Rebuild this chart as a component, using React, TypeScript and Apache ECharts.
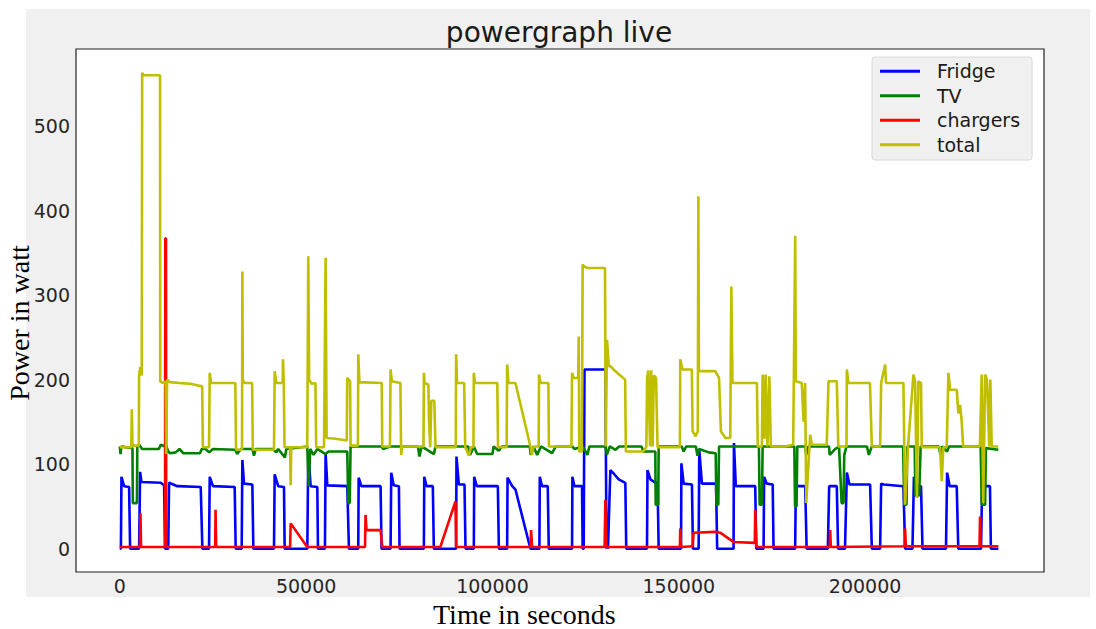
import React, { useEffect, useRef } from "react";
import * as echarts from "echarts";

const SERIES_NAMES = ["Fridge", "TV", "chargers", "total"];
const SERIES_COLORS = ["#0000ff", "#008000", "#ff0000", "#bfbf00"];
const X_TICKS = [0, 50000, 100000, 150000, 200000];
const Y_TICKS = [0, 100, 200, 300, 400, 500];

const FRIDGE: [number, number][] = [
  [0, 0], [300, 0], [450, 85], [1160, 74], [2500, 73], [2770, 0], [5180, 0], [5450, 91], [5810, 79], [10990, 78], [11890, 75], [12150, 0], [13000, 0], [13230, 78], [15460, 74], [21720, 73], [22160, 0], [23950, 0], [24130, 85], [25000, 74], [30830, 73], [31100, 0], [32710, 0], [32890, 105], [33330, 77], [35570, 76], [35840, 0], [41380, 0], [41560, 88], [42500, 74], [44060, 73], [44240, 0], [50320, 0], [50580, 115], [51210, 74], [53000, 73], [53180, 0], [55050, 0], [55230, 113], [55680, 75],
  [61040, 74], [61490, 0], [63990, 0], [64100, 84], [64800, 74], [69980, 74], [70240, 0], [72660, 0], [72840, 90], [73500, 75], [74900, 74], [75070, 0], [81590, 0], [81700, 85], [82300, 74], [84000, 74], [84270, 0], [90250, 0], [90350, 109], [90980, 76], [92500, 76], [92770, 0], [95000, 0], [95100, 85], [95800, 74], [101450, 74], [101720, 0], [103940, 0], [104050, 84], [105300, 74], [106170, 70], [110190, 0], [112600, 0], [112700, 85], [113300, 74], [114840, 74], [115110, 0],
  [121360, 0], [121450, 85], [122000, 74], [124040, 74], [124200, 0], [124490, 0], [124700, 212], [130300, 212], [130600, 0], [130744, 30], [131000, 0], [131638, 93], [132530, 89], [133870, 82], [135660, 78], [135900, 0], [141470, 0], [141600, 93], [142400, 82], [143700, 78], [144300, 78], [144600, 0], [150600, 0], [150700, 101], [151300, 77], [153530, 76], [153800, 0], [155320, 0], [155500, 117], [156200, 77], [160000, 77], [160300, 0], [164700, 0], [164800, 125], [165300, 74], [170510, 74], [170800, 0], [172750, 0], [172900, 85], [173600, 77], [175200, 76], [175430, 0],
  [181230, 0], [181400, 74], [183920, 74], [184300, 0], [190000, 0], [190350, 74], [192400, 74], [192750, 0], [194600, 0], [195100, 90], [195800, 76], [201340, 76], [201800, 0], [204026, 0], [204300, 77], [205000, 76], [210280, 74], [210730, 0], [212700, 0], [213100, 85], [213700, 74], [215000, 74], [215400, 0], [221700, 0], [222000, 90], [222700, 74], [224580, 74], [225000, 0], [231100, 0], [231400, 74], [233500, 74], [233750, 0], [235750, 0],
];

const TV: [number, number][] = [
  [0, 121], [200, 112], [400, 121], [3400, 119], [3500, 54], [4600, 54], [4700, 121], [5200, 123], [6000, 118], [10500, 118], [11000, 123], [12200, 121], [12300, 110], [12500, 121], [13000, 115], [13500, 113], [15000, 114], [16000, 118], [17000, 113], [21500, 113], [22000, 118], [23000, 118], [24000, 114], [25000, 118], [31000, 117], [31500, 112], [32500, 118], [35600, 118], [36000, 110], [36500, 118], [41000, 118], [42000, 114], [42500, 118], [44300, 108], [44700, 118], [50300, 121], [50700, 74], [51100, 118], [52000, 111], [53000, 118], [55200, 112], [56000, 115], [58000, 115], [61040, 115], [61300, 54], [61700, 54], [61930, 121], [70400, 121], [70600, 118], [72600, 121], [80000, 121], [80400, 109], [81000, 121], [84300, 112], [84700, 121], [93500, 121], [94000, 111], [95000, 121], [95900, 112], [100000, 112], [100300, 121], [101700, 116], [102500, 121], [110000, 121], [110300, 111], [111000, 121], [112000, 111], [113000, 121], [116000, 113], [117000, 121],
  [121400, 121], [122000, 118], [124200, 121], [125500, 111], [126000, 121], [130300, 121], [130700, 111], [131500, 121], [133000, 117], [134000, 121], [140000, 121], [140500, 115], [143700, 115], [143800, 52], [144500, 52], [144600, 121], [150800, 121], [151300, 115], [152000, 121], [154600, 121], [155000, 110], [155500, 118], [158000, 114], [159900, 113], [160100, 52], [160600, 52], [160800, 121], [171500, 121], [171700, 52], [172300, 52], [172500, 121], [178000, 121],
  [181000, 121], [181200, 50], [181600, 50], [181800, 121], [183900, 121], [184200, 111], [184800, 121], [190300, 121], [190500, 111], [192000, 118], [193000, 121], [193700, 54], [194200, 54], [194400, 111], [195000, 121], [200500, 121], [201000, 111], [201800, 121], [210200, 121], [210500, 52], [211100, 52], [211300, 121], [213300, 121], [213500, 63], [214500, 63], [214900, 121], [219800, 121], [220200, 111], [220600, 121], [222000, 115], [222500, 121], [231000, 121], [231300, 52], [232200, 52], [232400, 119], [235750, 117],
];

const CHARGERS: [number, number][] = [
  [0, 2], [5400, 2], [5550, 42], [5700, 2], [12150, 2], [12200, 367], [12400, 367], [12450, 2], [25600, 2], [25700, 46], [25850, 2], [45700, 2], [45850, 30], [50300, 2], [65800, 2], [65950, 40], [66200, 22], [69980, 22], [70420, 2], [86000, 2], [90080, 56], [90250, 2], [110190, 2], [110370, 22], [110640, 2], [130100, 2], [130300, 58], [130500, 2], [150300, 2], [150400, 24], [150600, 2], [153700, 3], [153980, 19], [159800, 20], [161100, 19], [163400, 12], [164700, 8], [170400, 7], [170514, 46], [170800, 2], [190500, 2], [190620, 22], [190800, 2], [210600, 3], [210730, 24], [210900, 3], [230700, 3], [230840, 38], [231000, 3], [235750, 3],
];

const TOTAL: [number, number][] = [
  [0, 120], [3100, 120], [3220, 165], [3400, 122], [5100, 122], [5180, 205], [5500, 215], [5900, 205], [6000, 563], [6300, 560], [10800, 560], [10850, 198], [11500, 196], [12200, 198], [12330, 190], [12450, 112], [12700, 200], [13500, 197], [16000, 196], [19000, 195], [21000, 193], [22100, 192], [22300, 120], [23950, 120], [24130, 208], [24500, 196], [31000, 196], [31200, 117], [32800, 117], [32890, 328], [33000, 200], [33500, 196], [35500, 196], [35700, 117], [41380, 117], [41560, 210], [42000, 196], [43700, 196], [43800, 224], [44000, 196], [44200, 120], [45700, 120], [45850, 75], [46000, 120], [50300, 120], [50580, 346], [50800, 200], [51500, 195], [52500, 196], [52700, 120], [54800, 120], [55230, 344], [55500, 131],
  [57910, 130], [60900, 128], [61040, 202], [61800, 198], [61930, 122], [63900, 122], [63990, 230], [64300, 197], [70300, 196], [70420, 121], [72500, 121], [72660, 212], [73000, 198], [75300, 196], [75500, 111], [75800, 121], [81500, 121], [81600, 208], [81800, 196], [82800, 194], [83000, 150], [83300, 120], [83600, 175], [84400, 175], [84720, 120], [90150, 120], [90250, 230], [90500, 196], [92400, 196], [92700, 120], [93700, 110], [94200, 120], [94900, 120], [95000, 208], [95300, 196], [101300, 196], [101500, 120], [103800, 120], [103940, 218], [104300, 196], [106170, 196], [110190, 121], [110600, 111], [111000, 121], [112400, 121], [112500, 206], [112900, 196], [115000, 196], [115150, 121], [118232, 121],
  [121200, 121], [121360, 208], [121800, 202], [123000, 202], [123147, 251], [123300, 115], [124000, 115], [124200, 336], [124600, 334], [125500, 332], [130200, 332], [130400, 121], [130744, 247], [131200, 216], [131638, 216], [132500, 212], [134000, 206], [135600, 200], [135800, 115], [140400, 115], [141000, 118], [141300, 121], [141500, 202], [141800, 211], [142300, 121], [142600, 211], [143000, 121], [143300, 205], [143900, 202], [144300, 120], [150300, 120], [150400, 224], [151000, 212], [153500, 212], [153700, 139], [154500, 133], [155100, 139], [155250, 417], [155400, 210], [159800, 210], [160800, 202], [161300, 139], [162500, 131], [163800, 131], [164100, 310], [164400, 196], [170400, 196], [170960, 196], [171200, 121], [172300, 121], [172500, 206], [173000, 130], [173300, 206], [173800, 121], [174300, 204], [174700, 121], [175500, 121], [178555, 121],
  [180700, 123], [181236, 370], [181400, 198], [183000, 196], [183500, 150], [183900, 196], [184200, 54], [185258, 135], [185700, 123], [189700, 123], [190170, 198], [192400, 198], [192800, 121], [195000, 121], [195100, 212], [195500, 196], [201300, 196], [201800, 121], [204026, 121], [204300, 196], [205366, 218], [205600, 196], [210280, 196], [210500, 121], [210730, 52], [211500, 120], [212963, 206], [213410, 198], [213900, 60], [214300, 198], [215000, 196], [215200, 120], [220100, 120], [220560, 80], [221000, 120], [221900, 120], [222350, 208], [222800, 188], [224580, 188], [225029, 160], [225500, 170], [225922, 150], [226300, 121], [230800, 121], [231285, 206], [231700, 54], [232200, 206], [232700, 200], [233300, 121], [233600, 200], [233966, 121], [235753, 121],
];

const SERIES_DATA = [FRIDGE, TV, CHARGERS, TOTAL];

export default function App() {
  const ref = useRef<HTMLDivElement>(null);
  useEffect(() => {
    if (!ref.current) return;
    const chart = echarts.init(ref.current, null, { renderer: "svg" });
    const tickFont = { fontFamily: "DejaVu Sans", fontSize: 19, color: "#262626" };
    chart.setOption({
      animation: false,
      backgroundColor: "transparent",
      title: {
        text: "powergraph live",
        left: 559,
        top: 18,
        textAlign: "center",
        padding: 0,
        textStyle: { fontFamily: "DejaVu Sans", fontSize: 28, fontWeight: "normal", color: "#1a1a1a" },
      },
      legend: {
        data: SERIES_NAMES.map((n) => ({ name: n, icon: "rect" })),
        orient: "vertical",
        left: 872,
        top: 57,
        itemWidth: 40,
        itemHeight: 3,
        itemGap: 0,
        padding: [2, 12, 3, 8],
        backgroundColor: "#f0f0f0",
        borderColor: "#d8d8d8",
        borderWidth: 1,
        borderRadius: 3,
        textStyle: { fontFamily: "DejaVu Sans", fontSize: 19, color: "#1a1a1a", lineHeight: 24.5, padding: [0, 0, 0, 12] },
      },
      grid: {
        left: 76,
        right: 52,
        top: 49,
        bottom: 57,
        show: true,
        backgroundColor: "#ffffff",
        borderColor: "#222222",
        borderWidth: 1.2,
      },
      xAxis: {
        type: "value",
        min: -11750,
        max: 248000,
        axisLine: { show: false },
        axisTick: { show: false },
        splitLine: { show: false },
        axisLabel: { ...tickFont, margin: 4, customValues: X_TICKS, formatter: (v: number) => String(v) },
      },
      yAxis: {
        type: "value",
        min: -27.5,
        max: 591,
        axisLine: { show: false },
        axisTick: { show: false },
        splitLine: { show: false },
        axisLabel: { ...tickFont, margin: 6, customValues: Y_TICKS, formatter: (v: number) => String(v) },
      },
      graphic: [
        {
          type: "text",
          left: 433,
          top: 600,
          style: { text: "Time in seconds", fontFamily: "Liberation Serif", fontSize: 28, fill: "#000" },
        },
        {
          type: "text",
          x: 5,
          y: 323,
          rotation: Math.PI / 2,
          style: {
            text: "Power in watt",
            fontFamily: "Liberation Serif",
            fontSize: 28,
            fill: "#000",
            align: "center",
            verticalAlign: "top",
          },
        },
      ],
      series: SERIES_NAMES.map((name, i) => ({
        name,
        type: "line",
        data: SERIES_DATA[i],
        showSymbol: false,
        symbol: "none",
        color: SERIES_COLORS[i],
        lineStyle: { width: 2.6, color: SERIES_COLORS[i] },
        z: 2 + i,
      })),
    });
    return () => chart.dispose();
  }, []);
  return (
    <div style={{ position: "fixed", left: 0, top: 0, width: 1096, height: 629, background: "#ffffff" }}>
      <div style={{ position: "absolute", left: 26, top: 9, width: 1064, height: 588, background: "#f0f0f0" }} />
      <div ref={ref} style={{ position: "absolute", left: 0, top: 0, width: 1096, height: 629 }} />
    </div>
  );
}
